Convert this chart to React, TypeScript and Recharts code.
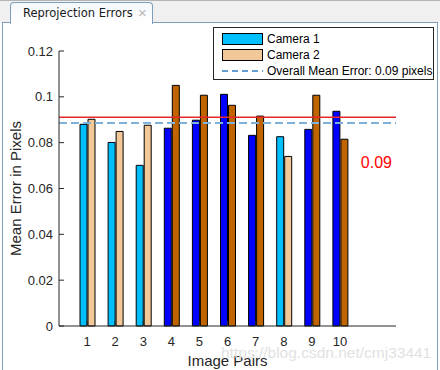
import { BarChart, Bar, XAxis, YAxis, Cell, ReferenceLine, Label } from "recharts";

const pairs = ["1", "2", "3", "4", "5", "6", "7", "8", "9", "10"];
const camera1 = [0.088, 0.0801, 0.0701, 0.0863, 0.0898, 0.1011, 0.0832, 0.0826, 0.0858, 0.0937];
const camera2 = [0.0902, 0.0849, 0.0876, 0.105, 0.1007, 0.0963, 0.0916, 0.074, 0.1007, 0.0815];
const aboveThreshold = [false, false, false, true, true, true, true, false, true, true];
const yTicks = [0, 0.02, 0.04, 0.06, 0.08, 0.1, 0.12];
const overallMean = 0.0886;
const threshold = 0.0911;
const thresholdLabel = "0.09";

const data = pairs.map((p, i) => ({ pair: p, cam1: camera1[i], cam2: camera2[i] }));

const FONT = "'Liberation Sans', Arial, Helvetica, sans-serif";
const AXIS = "#262626";
const CAM1 = "#00bfff";
const CAM1_SEL = "#0000ff";
const CAM2 = "#f2c898";
const CAM2_SEL = "#c06400";
const PANEL_BORDER = "#7f9db9";

function TabHeader() {
  return (
    <>
      <div style={{ position: "absolute", left: 0, top: 0, width: 440, height: 23, background: "#f0f0f0", borderTop: "1px solid #b4b4b4", boxSizing: "border-box" }} />
      <div style={{ position: "absolute", left: 2, top: 22, width: 436, height: 348, background: "#fff", border: `1px solid ${PANEL_BORDER}`, borderBottom: "none", boxSizing: "border-box" }} />
      <div
        style={{
          position: "absolute", left: 10, top: 2, width: 143, height: 22,
          border: `1px solid ${PANEL_BORDER}`, borderBottom: "none", borderRadius: "4px 4px 0 0",
          background: "linear-gradient(#f4f8fc, #ffffff)", boxSizing: "border-box",
        }}
      >
        <span style={{ position: "absolute", left: 12, top: 3, fontFamily: "'DejaVu Sans', sans-serif", fontSize: 11.5, color: "#1a1a1a", whiteSpace: "nowrap" }}>
          Reprojection Errors
        </span>
        <span style={{ position: "absolute", left: 127, top: 1, fontFamily: FONT, fontSize: 15, color: "#b8b8b8" }}>×</span>
      </div>
    </>
  );
}

function LegendBox() {
  const row = { position: "absolute" as const, left: 8, display: "flex", alignItems: "center", fontFamily: FONT, fontSize: 12, color: "#000", whiteSpace: "nowrap" as const };
  return (
    <div style={{ position: "absolute", left: 213, top: 27, width: 221, height: 53, background: "#fff", border: `1px solid ${AXIS}`, boxSizing: "border-box" }}>
      <div style={{ ...row, top: 4 }}>
        <span style={{ width: 39, height: 10, background: CAM1, border: "1px solid #000", marginRight: 4 }} />
        Camera 1
      </div>
      <div style={{ ...row, top: 20 }}>
        <span style={{ width: 39, height: 10, background: CAM2, border: "1px solid #000", marginRight: 4 }} />
        Camera 2
      </div>
      <div style={{ ...row, top: 36 }}>
        <svg width={41} height={4} style={{ marginRight: 4 }}>
          <line x1={0} x2={41} y1={2} y2={2} stroke="#2f7fc8" strokeWidth={1.5} strokeDasharray="6 4" />
        </svg>
        Overall Mean Error: 0.09 pixels
      </div>
    </div>
  );
}

export default function App() {
  return (
    <div style={{ position: "absolute", left: 0, top: 0, width: 440, height: 370, overflow: "hidden", background: "#fff" }}>
      <TabHeader />
      <div style={{ position: "absolute", left: 0, top: 0 }}>
        <BarChart
          width={440}
          height={370}
          data={data}
          margin={{ top: 51, right: 44, bottom: 0, left: 19 }}
          barSize={7}
          barGap={1}
        >
          <XAxis
            dataKey="pair"
            height={44}
            padding={{ left: 14, right: 42 }}
            stroke={AXIS}
            tickSize={-5}
            tickMargin={15.5}
            tick={{ fill: AXIS, fontSize: 13, fontFamily: FONT }}
            interval={0}
          >
            <Label value="Image Pairs" position="insideBottom" offset={4} style={{ fill: AXIS, fontSize: 15, fontFamily: FONT }} />
          </XAxis>
          <XAxis xAxisId="top" dataKey="pair" orientation="top" height={0} padding={{ left: 14, right: 42 }} stroke={AXIS} tickSize={-5} tick={false} interval={0} />
          <YAxis
            width={40}
            domain={[0, 0.12]}
            ticks={yTicks}
            stroke={AXIS}
            tickSize={-5}
            tickMargin={11}
            tick={{ fill: AXIS, fontSize: 13, fontFamily: FONT }}
          >
            <Label value="Mean Error in Pixels" angle={-90} position="insideLeft" offset={-3} style={{ fill: AXIS, fontSize: 15, fontFamily: FONT, textAnchor: "middle" }} />
          </YAxis>
          <YAxis yAxisId="right" orientation="right" width={0} domain={[0, 0.12]} ticks={yTicks} stroke={AXIS} tickSize={-5} tick={false} />
          <Bar dataKey="cam1" name="Camera 1" stroke="#000" strokeWidth={1} isAnimationActive={false}>
            {data.map((_, i) => (
              <Cell key={i} fill={aboveThreshold[i] ? CAM1_SEL : CAM1} />
            ))}
          </Bar>
          <Bar dataKey="cam2" name="Camera 2" stroke="#000" strokeWidth={1} isAnimationActive={false}>
            {data.map((_, i) => (
              <Cell key={i} fill={aboveThreshold[i] ? CAM2_SEL : CAM2} />
            ))}
          </Bar>
          <ReferenceLine y={overallMean} stroke="#7db2dc" strokeWidth={2} strokeDasharray="8 4" />
          <ReferenceLine y={threshold} stroke="#e8282b" strokeWidth={1.5}>
            <Label
              content={(props: any) => {
                const vb = props.viewBox || {};
                return (
                  <text x={(vb.x || 0) + (vb.width || 0) - 4} y={(vb.y || 0) + 51} textAnchor="end" fill="#ff0000" fontSize={16} fontFamily={FONT}>
                    {thresholdLabel}
                  </text>
                );
              }}
            />
          </ReferenceLine>
        </BarChart>
      </div>
      <LegendBox />
      <div style={{ position: "absolute", left: 221, top: 344, fontFamily: FONT, fontSize: 15.5, color: "#e2e2e2", whiteSpace: "nowrap" }}>
        https://blog.csdn.net/cmj33441
      </div>
    </div>
  );
}
